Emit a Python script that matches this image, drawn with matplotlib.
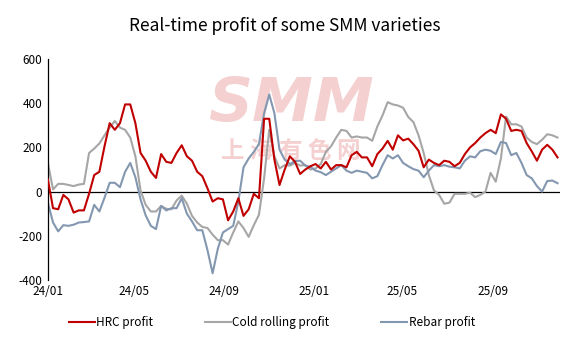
import matplotlib
matplotlib.use("Agg")
import matplotlib.pyplot as plt
import pandas as pd

plt.rcParams['font.family'] = ['Noto Sans CJK SC', 'DejaVu Sans']

# weekly readings, first week of 2024 onwards
dates = pd.date_range('2024-01-05', periods=100, freq='7D')

hrc = [55, -75, -80, -15, -35, -95, -85, -85, -10, 75,
       90, 205, 310, 280, 310, 395, 395, 310, 175, 140,
       90, 62, 170, 135, 130, 175, 210, 160, 140, 90,
       70, 15, -45, -30, -35, -130, -90, -30, -110, -80,
       -10, -30, 330, 330, 145, 30, 100, 160, 135, 80,
       100, 115, 125, 105, 135, 100, 120, 120, 110, 165,
       180, 155, 155, 115, 170, 195, 230, 190, 255, 232,
       240, 215, 185, 110, 145, 130, 120, 140, 135, 115,
       130, 170, 200, 220, 245, 265, 280, 265, 350, 330,
       275, 280, 275, 220, 182, 140, 190, 212, 190, 155]

cold = [130, 10, 35, 35, 30, 25, 32, 35, 175, 195,
        218, 255, 290, 320, 290, 280, 245, 160, 5, -60,
        -90, -90, -65, -78, -80, -40, -18, -55, -110, -140,
        -160, -165, -195, -220, -220, -240, -185, -135, -165, -205,
        -152, -105, 60, 280, 160, 105, 120, 118, 130, 118,
        120, 100, 105, 125, 180, 205, 245, 280, 275, 245,
        250, 245, 245, 230, 295, 345, 405, 395, 390, 380,
        338, 315, 255, 175, 75, 5, -15, -55, -50, -10,
        -10, -10, -5, -25, -15, 0, 85, 45, 150, 340,
        305, 305, 295, 245, 225, 215, 235, 260, 255, 245]

rebar = [-50, -140, -180, -152, -155, -150, -140, -138, -135, -60,
         -90, -28, 40, 40, 20, 90, 130, 65, -35, -108,
         -155, -170, -65, -85, -75, -75, -30, -100, -135, -175,
         -175, -265, -370, -260, -185, -170, -155, -45, 110, 150,
         180, 215, 355, 440, 355, 190, 145, 125, 138, 140,
         118, 112, 95, 88, 75, 90, 105, 120, 95, 85,
         95, 90, 85, 60, 70, 120, 165, 150, 165, 130,
         115, 102, 95, 65, 95, 120, 115, 120, 113, 110,
         105, 140, 160, 155, 183, 190, 185, 170, 225, 220,
         165, 175, 130, 75, 60, 25, 0, 48, 50, 38]

tick_dates = pd.to_datetime(['2024-01-05', '2024-05-01', '2024-09-01',
                             '2025-01-01', '2025-05-01', '2025-09-01'])
tick_labels = ['24/01', '24/05', '24/09', '25/01', '25/05', '25/09']

fig = plt.figure(figsize=(5.7, 3.46), dpi=100)
ax = fig.add_axes([0.084, 0.191, 0.898, 0.638])

# faint watermark
ax.text(0.475, 0.795, 'SMM', transform=ax.transAxes, ha='center', va='center',
        fontsize=44, fontweight='bold', fontstyle='italic', color='#f5d0d0',
        family=['DejaVu Sans'], zorder=0)
ax.text(0.475, 0.585, '上 海 有 色 网', transform=ax.transAxes, ha='center', va='center',
        fontsize=17, fontweight='bold', color='#f5d0d0', zorder=0)

ax.plot(dates, cold, color='#a6a6a6', lw=1.5, label='Cold rolling profit', zorder=2)
ax.plot(dates, rebar, color='#8497b0', lw=1.5, label='Rebar profit', zorder=2)
ax.plot(dates, hrc, color='#c00000', lw=1.5, label='HRC profit', zorder=3)
ax.axhline(0, color='black', lw=0.9, zorder=1)

ax.set_ylim(-400, 600)
ax.set_yticks([-400, -200, 0, 200, 400, 600])
ax.set_yticklabels(['-400', '-200', '0', '200', '400', '600'])
ax.set_xlim(dates[0], dates[-1] + pd.Timedelta(days=3))
ax.set_xticks(tick_dates)
ax.set_xticklabels(tick_labels)
ax.tick_params(axis='both', length=0, labelsize=8.5, pad=4)

for s in ['top', 'right', 'bottom']:
    ax.spines[s].set_visible(False)
ax.spines['left'].set_color('black')
ax.spines['left'].set_linewidth(0.9)

fig.suptitle('Real-time profit of some SMM varieties', fontsize=12.5, y=0.95)

handles, labels = ax.get_legend_handles_labels()
order = [2, 0, 1]
fig.legend([handles[i] for i in order], [labels[i] for i in order],
           loc='center', bbox_to_anchor=(0.477, 0.068), ncol=3, frameon=False,
           fontsize=8.5, handlelength=2.2, handletextpad=0.1, columnspacing=4.4)

fig.savefig('out.png', dpi=100)
